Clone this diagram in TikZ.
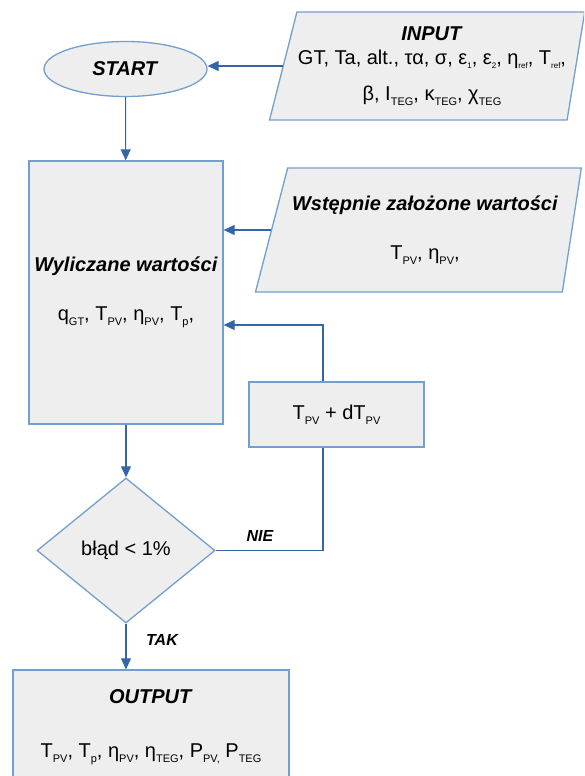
\documentclass[tikz,border=0pt]{standalone}
\usepackage{fontspec}
\setmainfont{Liberation Sans}
\usetikzlibrary{shapes.geometric, arrows.meta}
\definecolor{ramka}{HTML}{729FCF}
\definecolor{niebieski}{HTML}{3465A4}
\definecolor{tlo}{HTML}{EEEEEE}
\tikzstyle{blok}=[rectangle, draw=ramka, fill=tlo, line width=1.3pt, inner sep=0pt, align=center, font=\fontsize{20}{24}\selectfont]
\tikzstyle{dane}=[blok, trapezium, trapezium stretches=true]
\tikzstyle{decyzja}=[blok, diamond]
\tikzstyle{poczatek}=[blok, ellipse]
\tikzstyle{strzalka}=[draw=niebieski, line width=1.1pt, -{Triangle[length=11pt,width=10pt]}]
\tikzstyle{polaczenie}=[draw=niebieski, line width=1.1pt]
\tikzstyle{napis}=[font=\fontsize{16}{18}\selectfont\bfseries\itshape]
\newcommand{\sub}[1]{\raisebox{-5pt}{\fontsize{11}{11}\selectfont #1}}
\newcommand{\sbs}[1]{\raisebox{-4pt}{\fontsize{8}{8}\selectfont #1}}
\newcommand{\tytul}[1]{\textbf{\textit{#1}}}

\begin{document}
\begin{tikzpicture}[x=1pt, y=-1pt]
\useasboundingbox (0,0) rectangle (584,776);
\clip (0,0) rectangle (584,776);
\node[poczatek, minimum width=163pt, minimum height=55pt] (start) at (125.5,69) {\tytul{START}};
\node[dane, trapezium left angle=71, trapezium right angle=102.5, minimum width=316pt, minimum height=108pt] (input) at (432,66)
	{\tytul{INPUT}\\ GT, Ta, alt., τα, σ, ε\sbs{1}, ε\sbs{2}, η\sbs{ref}, T\sbs{ref},\\[12pt] β, I\sub{TEG}, κ\sub{TEG}, χ\sub{TEG}};
\node[blok, minimum width=194pt, minimum height=263pt] (wylicz) at (126,292.5)
	{\tytul{Wyliczane wartości}\\[25pt] q\sub{GT}, T\sub{PV}, η\sub{PV}, T\sub{p},};
\node[dane, trapezium left angle=65.6, trapezium right angle=105, minimum width=327pt, minimum height=124pt] (wstep) at (425,230)
	{\tytul{Wstępnie założone wartości}\\[25pt] T\sub{PV}, η\sub{PV},};
\node[blok, minimum width=175pt, minimum height=65pt] (krok) at (336.5,414.5) {T\sub{PV} + dT\sub{PV}};
\node[decyzja, minimum width=178pt, minimum height=145pt] (blad) at (126,550.5) {błąd < 1\%};
\node[blok, minimum width=276pt, minimum height=114pt] (wynik) at (151,727)
	{\tytul{OUTPUT}\\[30pt] T\sub{PV}, T\sub{p}, η\sub{PV}, η\sub{TEG}, P\sub{PV,} P\sub{TEG}};
\coordinate (petla) at (323,325);
\draw[strzalka] (input.west) -- (input.west -| start.east);
\draw[strzalka] (start) -- (wylicz);
\draw[strzalka] (wstep.west) -- (wstep.west -| wylicz.east);
\draw[strzalka] (petla |- krok.north) -- (petla) -- (petla -| wylicz.east);
\draw[strzalka] (wylicz) -- (blad);
\draw[polaczenie] (blad.east) -- (blad.east -| petla) -- (petla |- krok.south);
\draw[strzalka] (blad.south) -- (blad.south |- wynik.north);
\node[napis] (nie) at (260,536) {NIE};
\node[napis] (tak) at (162,640) {TAK};
\end{tikzpicture}
\end{document}
